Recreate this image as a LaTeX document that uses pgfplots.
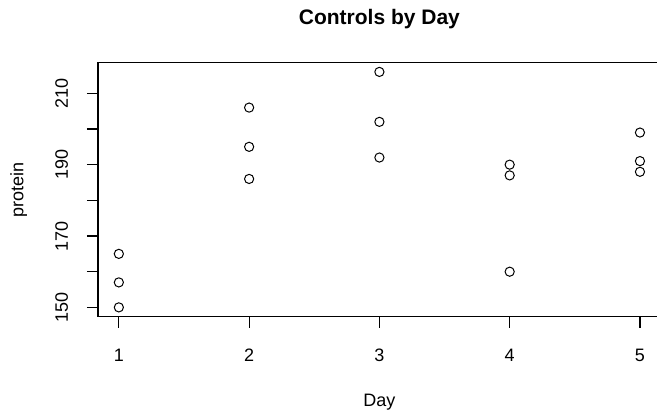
\documentclass[border=0pt]{standalone}
\usepackage{fontspec}
\setmainfont{Liberation Sans}
\usepackage{pgfplots}
\pgfplotsset{compat=1.18}
\begin{document}
\begin{tikzpicture}
\useasboundingbox (0pt,0pt) rectangle (657pt,414pt);
\clip (0pt,0pt) rectangle (657pt,414pt);
\begin{axis}[
  at={(98pt,97.2pt)}, anchor=south west,
  width=562.8pt, height=254.3pt, scale only axis,
  xmin=0.84, xmax=5.16, ymin=147.36, ymax=218.64,
  xtick={1,2,3,4,5},
  ytick={150,160,170,180,190,200,210},
  yticklabels={150,,170,,190,,210},
  tick pos=left,
  tick align=outside,
  major tick length=11pt,
  axis line style={line width=1.1pt, black},
  every tick/.style={black, line width=1.1pt},
  /pgf/number format/assume math mode=true,
  ticklabel style={font=\fontsize{18}{18}\selectfont},
  xticklabel style={anchor=center, yshift=-27.5pt},
  yticklabel style={anchor=center, xshift=-25.3pt, rotate=90},
  every axis title/.style={at={(axis description cs:0.5,1)}, anchor=base, yshift=38.2pt, font=\bfseries\fontsize{21}{21}\selectfont},
  every axis x label/.style={at={(axis description cs:0.5,0)}, anchor=base, yshift=-90.2pt, font=\fontsize{18}{18}\selectfont},
  every axis y label/.style={at={(axis description cs:0,0.5)}, xshift=-74.5pt, rotate=90, anchor=base, font=\fontsize{18}{18}\selectfont},
  title={Controls by Day},
  xlabel={Day},
  ylabel={protein},
]
\addplot[only marks, mark=o, mark size=4.6pt, mark options={line width=1.0pt, black}] coordinates {
  (1,165) (1,157) (1,150)
  (2,206) (2,195) (2,186)
  (3,216) (3,202) (3,192)
  (4,190) (4,187) (4,160)
  (5,199) (5,191) (5,188)
};
\end{axis}
\end{tikzpicture}
\end{document}
